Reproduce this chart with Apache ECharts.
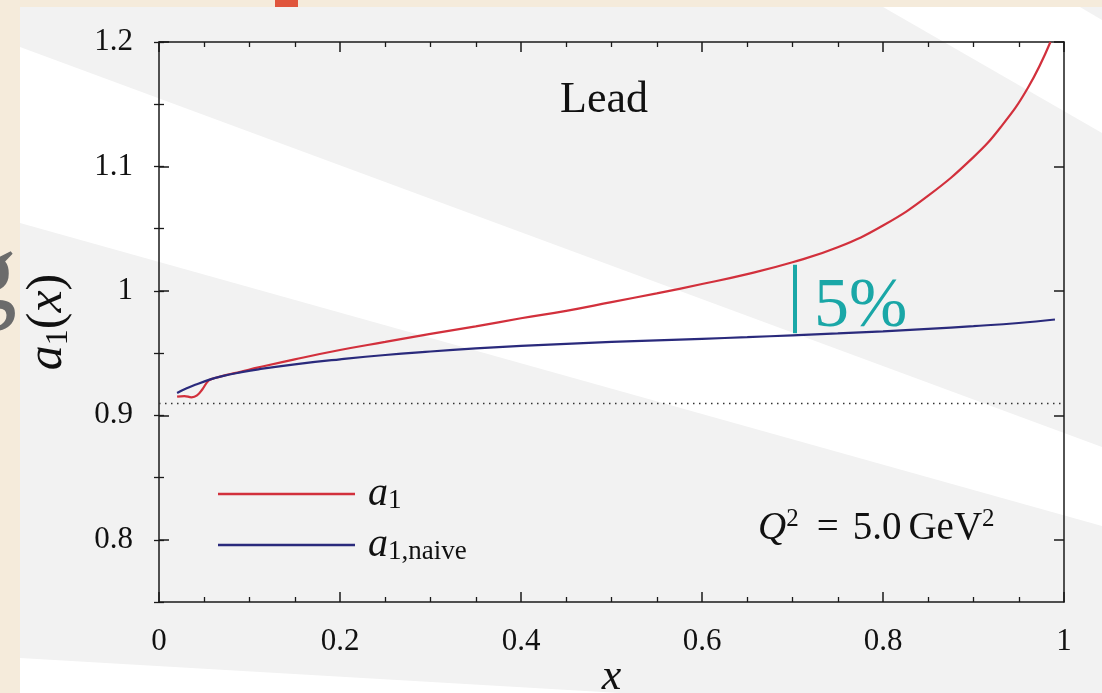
<!DOCTYPE html>
<html>
<head>
<meta charset="utf-8">
<script src="https://cdn.jsdelivr.net/npm/echarts@6/dist/echarts.min.js"></script>
<style>
  html, body { margin: 0; padding: 0; background: #f5ebdb; }
  #main { width: 1102px; height: 693px; }
</style>
</head>
<body>
<div id="main"></div>
<script>
// a1(x) for lead at Q^2 = 5 GeV^2
const xA1 = [0.020, 0.028, 0.036, 0.042, 0.048, 0.055, 0.062, 0.075, 0.090, 0.110, 0.150, 0.200,
             0.250, 0.300, 0.350, 0.400, 0.450, 0.500, 0.550, 0.600, 0.650, 0.700, 0.750, 0.800,
             0.850, 0.900, 0.930, 0.960, 0.985];
const a1 = [0.9150, 0.9155, 0.9145, 0.9160, 0.9210, 0.9280, 0.9300, 0.9325, 0.9350, 0.9385, 0.9450, 0.9525,
            0.9590, 0.9655, 0.9715, 0.9780, 0.9840, 0.9910, 0.9980, 1.0055, 1.0135, 1.0230, 1.0350, 1.0525,
            1.0765, 1.1075, 1.1315, 1.1630, 1.2000];

// naive estimate
const xNaive = [0.020, 0.030, 0.040, 0.055, 0.070, 0.090, 0.110, 0.150, 0.200, 0.250, 0.300, 0.350,
                0.400, 0.450, 0.500, 0.550, 0.600, 0.650, 0.700, 0.750, 0.800, 0.850, 0.900, 0.950, 0.990];
const a1Naive = [0.9180, 0.9215, 0.9245, 0.9285, 0.9315, 0.9345, 0.9370, 0.9410, 0.9450, 0.9485, 0.9513, 0.9538,
                 0.9558, 0.9575, 0.9590, 0.9603, 0.9615, 0.9628, 0.9643, 0.9658, 0.9675, 0.9695, 0.9717, 0.9742, 0.9770];

// reference level and the 5% gap marker
const baseLevel = 0.91;
const gapX = 0.703;
const gapLow = 0.966;
const gapHigh = 1.021;

// tick labels
const xTickValues = [0, 0.2, 0.4, 0.6, 0.8, 1];
const yTickValues = [0.8, 0.9, 1.0, 1.1, 1.2];

const serif = "'Liberation Serif', 'DejaVu Serif', serif";
const ink = '#1a1a1a';
const redColor = '#d2303c';
const navy = '#2a2a7c';
const teal = '#1aa7a7';

const pairs = (xs, ys) => xs.map((x, i) => [x, ys[i]]);

const axisLine = { show: true, onZero: false, lineStyle: { color: ink, width: 1.5 } };
const noSplit = { show: false };

function xAxisDef(pos, labels) {
  return {
    type: 'value', position: pos, min: 0, max: 1, interval: 0.2,
    axisLine: axisLine,
    axisTick: { show: true, inside: true, length: 10, lineStyle: { color: ink, width: 1.5 } },
    minorTick: { show: true, splitNumber: 4, length: 5, lineStyle: { color: ink, width: 1.3 } },
    splitLine: noSplit, minorSplitLine: noSplit,
    axisLabel: labels ? {
      show: true, fontFamily: serif, fontSize: 31, color: '#111', margin: 24,
      customValues: xTickValues,
      formatter: v => String(+(+v).toFixed(2))
    } : { show: false }
  };
}

function yMajor(pos, labels) {
  return {
    type: 'value', position: pos, min: 0.75, max: 1.2,
    axisLine: axisLine,
    axisTick: { show: true, inside: true, length: 10, customValues: yTickValues, lineStyle: { color: ink, width: 1.5 } },
    splitLine: noSplit,
    axisLabel: labels ? {
      show: true, fontFamily: serif, fontSize: 31, color: '#111', margin: 26,
      customValues: yTickValues,
      formatter: v => String(+(+v).toFixed(2))
    } : { show: false }
  };
}

function yMinor(pos) {
  return {
    type: 'value', position: pos, min: 0.75, max: 1.2, interval: 0.05,
    axisLine: { show: false },
    axisTick: { show: true, inside: true, length: 5, lineStyle: { color: ink, width: 1.3 } },
    splitLine: noSplit,
    axisLabel: { show: false }
  };
}

const xBottom = xAxisDef('bottom', true);
xBottom.name = 'x';
xBottom.nameLocation = 'middle';
xBottom.nameGap = 53;
xBottom.nameMoveOverlap = false;
xBottom.nameTextStyle = { fontFamily: serif, fontStyle: 'italic', fontSize: 44, color: '#111' };

const yLeft = yMajor('left', true);
yLeft.name = '{i|a}{s|1}{r|(}{i|x}{r|)}';
yLeft.nameLocation = 'middle';
yLeft.nameGap = 84;
yLeft.nameRotate = 90;
yLeft.nameMoveOverlap = false;
yLeft.nameTextStyle = {
  color: '#111',
  rich: {
    i: { fontFamily: serif, fontStyle: 'italic', fontSize: 50, color: '#111', lineHeight: 54, verticalAlign: 'middle' },
    r: { fontFamily: serif, fontSize: 50, color: '#111', lineHeight: 54, verticalAlign: 'middle' },
    s: { fontFamily: serif, fontSize: 32, color: '#111', lineHeight: 28, verticalAlign: 'bottom' }
  }
};

const legendRich = {
  i: { fontFamily: serif, fontStyle: 'italic', fontSize: 40, color: '#111', lineHeight: 40, verticalAlign: 'middle' },
  s: { fontFamily: serif, fontSize: 27, color: '#111', lineHeight: 22, verticalAlign: 'bottom' }
};

const chart = echarts.init(document.getElementById('main'), null, { renderer: 'canvas' });

chart.setOption({
  animation: false,
  backgroundColor: 'transparent',
  grid: { left: 159, right: 38, top: 42, bottom: 91, containLabel: false, outerBoundsMode: 'none' },
  xAxis: [xBottom, xAxisDef('top', false)],
  yAxis: [yLeft, yMinor('left'), yMajor('right', false), yMinor('right')],
  legend: {
    orient: 'vertical', left: 213, top: 469,
    itemWidth: 137, itemHeight: 2.5, itemGap: 11,
    icon: 'rect', selectedMode: false,
    data: ['a1', 'a1,naive'],
    formatter: name => name === 'a1' ? '{i|a}{s|1}' : '{i|a}{s|1,naive}',
    textStyle: { padding: [0, 0, 0, 8], rich: legendRich }
  },
  graphic: [
    { type: 'rect', z: -20, silent: true, shape: { x: 0, y: 0, width: 1102, height: 693 }, style: { fill: '#f5ebdb' } },
    { type: 'text', z: -19, silent: true, x: -38, y: 280,
      style: { text: 'g', font: '110px ' + serif, fill: '#6b6b6b', textVerticalAlign: 'middle' } },
    { type: 'rect', z: -18, silent: true, shape: { x: 20, y: 7, width: 1082, height: 686 }, style: { fill: '#f2f2f2' } },
    { type: 'polygon', z: -17, silent: true, shape: { points: [[883, 7], [1080, 7], [1102, 20], [1102, 133]] }, style: { fill: '#ffffff' } },
    { type: 'polygon', z: -17, silent: true, shape: { points: [[20, 47], [1102, 447], [1102, 526], [20, 223]] }, style: { fill: '#ffffff' } },
    { type: 'polygon', z: -17, silent: true, shape: { points: [[20, 658], [620, 693], [20, 693]] }, style: { fill: '#ffffff' } },
    { type: 'rect', z: -16, silent: true, shape: { x: 275, y: 0, width: 23, height: 7 }, style: { fill: '#e0553c' } },
    { type: 'text', z: 10, silent: true, x: 604, y: 100,
      style: { text: 'Lead', font: '44px ' + serif, fill: '#111', textAlign: 'center', textVerticalAlign: 'middle' } },
    { type: 'text', z: 10, silent: true, x: 814, y: 308,
      style: { text: '5%', font: '70px ' + serif, fill: teal, textAlign: 'left', textVerticalAlign: 'middle' } },
    { type: 'text', z: 10, silent: true, x: 758, y: 529,
      style: {
        text: '{q|Q}{p|2}{e|=}{n|5.0}{m|GeV}{p|2}',
        textAlign: 'left', textVerticalAlign: 'middle',
        rich: {
          q: { fontFamily: serif, fontStyle: 'italic', fontSize: 39, fill: '#111', lineHeight: 44, verticalAlign: 'middle' },
          e: { fontFamily: serif, fontSize: 39, fill: '#111', lineHeight: 44, verticalAlign: 'middle', padding: [0, 14, 0, 18] },
          n: { fontFamily: serif, fontSize: 39, fill: '#111', lineHeight: 44, verticalAlign: 'middle', padding: [0, 7, 0, 0] },
          m: { fontFamily: serif, fontSize: 39, fill: '#111', lineHeight: 44, verticalAlign: 'middle' },
          p: { fontFamily: serif, fontSize: 25, fill: '#111', lineHeight: 26, verticalAlign: 'top' }
        }
      } }
  ],
  series: [
    {
      name: 'a1', type: 'line', xAxisIndex: 0, yAxisIndex: 0,
      data: pairs(xA1, a1), showSymbol: false, smooth: 0.45, clip: true,
      lineStyle: { color: redColor, width: 2.2 }, itemStyle: { color: redColor },
      markLine: {
        silent: true, symbol: 'none', label: { show: false },
        lineStyle: { color: teal, width: 4, type: 'solid' },
        data: [[{ coord: [gapX, gapLow] }, { coord: [gapX, gapHigh] }]]
      }
    },
    {
      name: 'a1,naive', type: 'line', xAxisIndex: 0, yAxisIndex: 0,
      data: pairs(xNaive, a1Naive), showSymbol: false, smooth: 0.45,
      lineStyle: { color: navy, width: 2.2 }, itemStyle: { color: navy },
      markLine: {
        silent: true, symbol: 'none', label: { show: false },
        lineStyle: { color: '#333', width: 1.3, type: [1.5, 4.5] },
        data: [{ yAxis: baseLevel }]
      }
    }
  ]
});
</script>
</body>
</html>
